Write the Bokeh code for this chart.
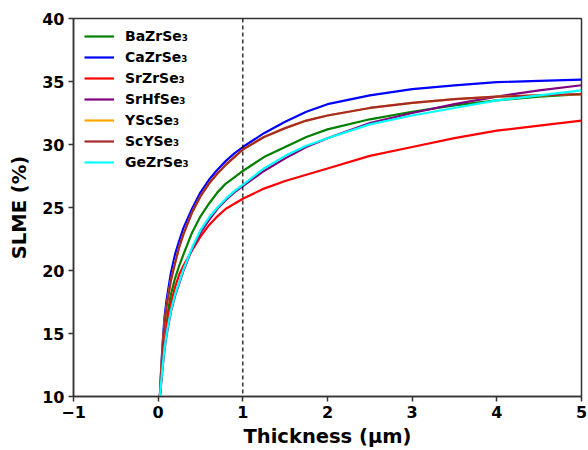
from bokeh.plotting import figure
from bokeh.models import Range1d, Span, Legend, LegendItem, FixedTicker
from bokeh.embed import file_html
from bokeh.resources import INLINE

thickness = [0.02, 0.03, 0.05, 0.075, 0.1, 0.15, 0.2, 0.25, 0.3, 0.4, 0.5, 0.6,
             0.7, 0.8, 0.9, 1.0, 1.25, 1.5, 1.75, 2.0, 2.5, 3.0, 3.5, 4.0, 4.5, 5.0]

BaZrSe3 = [10.0, 11.0, 13.0, 14.9, 16.2, 18.1, 19.4, 20.4, 21.3, 23.0, 24.3, 25.3,
           26.2, 26.9, 27.4, 27.9, 29.0, 29.8, 30.6, 31.2, 32.0, 32.6, 33.1, 33.5, 33.8, 34.0]
CaZrSe3 = [10.0, 11.5, 14.0, 16.3, 17.7, 19.8, 21.3, 22.4, 23.4, 24.9, 26.2, 27.2,
           28.0, 28.7, 29.3, 29.8, 30.9, 31.8, 32.6, 33.2, 33.9, 34.4, 34.7, 34.95, 35.05, 35.15]
SrZrSe3 = [10.0, 10.9, 12.7, 14.5, 15.7, 17.4, 18.7, 19.7, 20.4, 21.6, 22.7, 23.6,
           24.3, 24.9, 25.3, 25.7, 26.5, 27.1, 27.6, 28.1, 29.1, 29.8, 30.5, 31.1, 31.5, 31.9]
SrHfSe3 = [10.0, 10.6, 12.1, 13.7, 14.9, 16.7, 18.0, 19.0, 20.0, 21.7, 23.0, 24.0,
           24.9, 25.6, 26.2, 26.7, 27.9, 28.9, 29.8, 30.5, 31.7, 32.5, 33.2, 33.8, 34.3, 34.7]
YScSe3 = [10.0, 11.3, 13.6, 15.8, 17.2, 19.2, 20.6, 21.9, 22.9, 24.6, 25.9, 26.9,
          27.7, 28.4, 29.0, 29.6, 30.6, 31.3, 31.9, 32.3, 32.9, 33.3, 33.6, 33.8, 33.9, 34.0]
ScYSe3 = [10.0, 11.3, 13.6, 15.8, 17.2, 19.2, 20.6, 21.9, 22.9, 24.6, 25.9, 26.9,
          27.7, 28.4, 29.0, 29.6, 30.6, 31.3, 31.9, 32.3, 32.9, 33.3, 33.6, 33.8, 33.9, 34.0]
GeZrSe3 = [10.0, 10.7, 12.2, 13.8, 15.0, 16.8, 18.1, 19.1, 20.1, 21.8, 23.2, 24.2,
           25.0, 25.7, 26.3, 26.8, 28.1, 29.1, 29.9, 30.5, 31.6, 32.3, 32.9, 33.5, 33.9, 34.3]

labels = ["BaZrSe\u2083", "CaZrSe\u2083", "SrZrSe\u2083", "SrHfSe\u2083",
          "YScSe\u2083", "ScYSe\u2083", "GeZrSe\u2083"]
series = [BaZrSe3, CaZrSe3, SrZrSe3, SrHfSe3, YScSe3, ScYSe3, GeZrSe3]
colors = ["green", "blue", "red", "purple", "orange", "brown", "cyan"]

x_ticks = [-1, 0, 1, 2, 3, 4, 5]
y_ticks = [10, 15, 20, 25, 30, 35, 40]

FONT = "DejaVu Sans"

p = figure(width=588, height=450, output_backend="svg", toolbar_location=None,
           x_range=Range1d(-1, 5), y_range=Range1d(10, 40),
           min_border_left=73, min_border_right=7, min_border_top=18,
           min_border_bottom=54)
p.grid.visible = False
p.outline_line_color = "#333333"
p.outline_line_width = 1.5
p.background_fill_color = "white"
p.border_fill_color = "white"

renderers = []
for ys, c in zip(series, colors):
    r = p.line(thickness, ys, line_color=c, line_width=2.2, line_join="round")
    renderers.append(r)

vline = Span(location=1, dimension="height", line_color="black",
             line_dash="4 3", line_width=1.2)
p.add_layout(vline)

for ax in (p.xaxis[0], p.yaxis[0]):
    ax.axis_line_color = "#333333"
    ax.axis_line_width = 1.5
    ax.major_tick_line_color = "#333333"
    ax.major_tick_line_width = 1.5
    ax.major_tick_out = 5
    ax.major_tick_in = 0
    ax.minor_tick_line_color = None
    ax.major_label_text_font = FONT
    ax.major_label_text_font_style = "bold"
    ax.major_label_text_font_size = "16px"
    ax.major_label_text_color = "black"
    ax.axis_label_text_font = FONT
    ax.axis_label_text_font_style = "bold"
    ax.axis_label_text_font_size = "19.5px"
    ax.axis_label_text_color = "black"

p.xaxis.ticker = FixedTicker(ticks=x_ticks)
p.yaxis.ticker = FixedTicker(ticks=y_ticks)
p.xaxis.major_label_overrides = {-1: "\u22121"}
p.xaxis.axis_label = "Thickness (\u00b5m)"
p.yaxis.axis_label = "SLME (%)"
p.xaxis.major_label_standoff = 4
p.yaxis.major_label_standoff = 4
p.xaxis.axis_label_standoff = 4
p.yaxis.axis_label_standoff = 8

items = [LegendItem(label=l, renderers=[r]) for l, r in zip(labels, renderers)]
legend = Legend(items=items, location=(11, 225), margin=0, padding=6,
                spacing=3, glyph_width=30, glyph_height=18, label_height=18,
                label_standoff=11, border_line_color=None,
                background_fill_alpha=0.0,
                label_text_font=FONT, label_text_font_style="bold",
                label_text_color="black",
                label_text_font_size="14px")
p.add_layout(legend, "center")

open("out.html", "w").write(file_html(p, INLINE))
